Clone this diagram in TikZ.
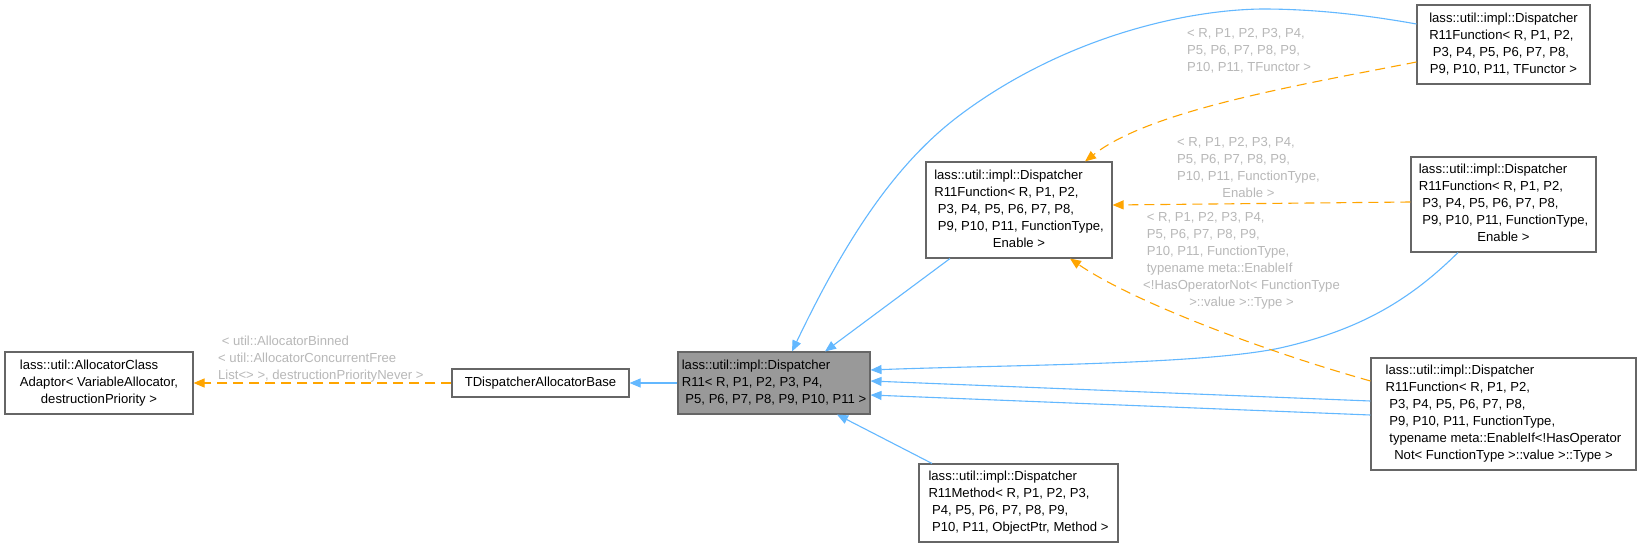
\documentclass[tikz,border=0pt]{standalone}
\usepackage{fontspec}
\setmainfont{Liberation Sans}
\usetikzlibrary{arrows.meta,calc}
\definecolor{edgeblue}{HTML}{63B8FF}
\definecolor{edgeorange}{HTML}{FFA500}
\definecolor{lblgray}{HTML}{B8B8B8}
\definecolor{boxborder}{HTML}{666666}
\definecolor{boxgray}{HTML}{999999}
\newcommand{\ctrline}[1]{\multicolumn{1}{@{}c@{}}{#1}}
\newcommand{\tb}[1]{\begin{tabular}{@{}l@{}}#1\end{tabular}}
\newcommand{\tbt}[1]{\begin{tabular}[t]{@{}l@{}}#1\end{tabular}}
\begin{document}
\begin{tikzpicture}[x=1pt,y=-1pt,
  box/.style={draw=boxborder, line width=1.1pt, fill=white, inner sep=0pt, font=\fontsize{13.1}{17}\selectfont},
  lbl/.style={text=lblgray, inner sep=0pt, anchor=base west, font=\fontsize{13.1}{17}\selectfont},
  inh/.style={draw=edgeblue, line width=1.1pt, -{Triangle[length=11pt,width=9pt]}},
  usage/.style={draw=edgeorange, line width=1.1pt, dash pattern=on 10pt off 6pt, -{Triangle[length=11pt,width=9pt]}}]
\useasboundingbox[fill=white] (0,0) rectangle (1641,548);

\node[box, minimum width=188pt, minimum height=62pt] (A) at (99,383)
  {\tb{lass::util::AllocatorClass\\Adaptor< VariableAllocator,\\\ctrline{destructionPriority >}}};
\node[box, minimum width=177pt, minimum height=28pt] (B) at (540.5,383)
  {TDispatcherAllocatorBase};
\node[box, fill=boxgray, minimum width=192pt, minimum height=62pt] (C) at (774,383)
  {\tb{lass::util::impl::Dispatcher\\R11< R, P1, P2, P3, P4,\\\ P5, P6, P7, P8, P9, P10, P11 >}};
\node[box, minimum width=186pt, minimum height=96pt] (D) at (1019,210)
  {\tb{lass::util::impl::Dispatcher\\R11Function< R, P1, P2,\\\ P3, P4, P5, P6, P7, P8,\\\ P9, P10, P11, FunctionType,\\\ctrline{Enable >}}};
\node[box, minimum width=173pt, minimum height=79pt] (E) at (1503.5,44.5)
  {\tb{lass::util::impl::Dispatcher\\R11Function< R, P1, P2,\\\ P3, P4, P5, P6, P7, P8,\\\ctrline{P9, P10, P11, TFunctor >}}};
\node[box, minimum width=185pt, minimum height=95pt] (F) at (1503.5,204.5)
  {\tb{lass::util::impl::Dispatcher\\R11Function< R, P1, P2,\\\ P3, P4, P5, P6, P7, P8,\\\ P9, P10, P11, FunctionType,\\\ctrline{Enable >}}};
\node[box, minimum width=265pt, minimum height=112pt] (G) at (1503.5,414)
  {\tb{lass::util::impl::Dispatcher\\R11Function< R, P1, P2,\\\ P3, P4, P5, P6, P7, P8,\\\ P9, P10, P11, FunctionType,\\\ typename meta::EnableIf<!HasOperator\\\ctrline{Not< FunctionType >::value >::Type >}}};
\node[box, minimum width=199pt, minimum height=78pt] (H) at (1018.5,503)
  {\tb{lass::util::impl::Dispatcher\\R11Method< R, P1, P2, P3,\\\ P4, P5, P6, P7, P8, P9,\\\ P10, P11, ObjectPtr, Method >}};

\node[lbl] (lab1) at (218,345.8)
  {\tbt{\ < util::AllocatorBinned\\< util::AllocatorConcurrentFree\\List<> >, destructionPriorityNever >}};
\node[lbl] (lab2) at (1187,37.8)
  {\tbt{< R, P1, P2, P3, P4,\\P5, P6, P7, P8, P9,\\P10, P11, TFunctor >}};
\node[lbl] (lab3) at (1177,146.8)
  {\tbt{< R, P1, P2, P3, P4,\\P5, P6, P7, P8, P9,\\P10, P11, FunctionType,\\\ctrline{Enable >}}};
\node[lbl] (lab4) at (1143,221.8)
  {\tbt{\ < R, P1, P2, P3, P4,\\\ P5, P6, P7, P8, P9,\\\ P10, P11, FunctionType,\\\ typename meta::EnableIf\\<!HasOperatorNot< FunctionType\\\ctrline{>::value >::Type >}}};

\draw[usage] (B.west) -- (A.east);
\draw[inh] (C.west) -- (B.east);
\draw[inh] ($(D.south)+(-69,0)$) -- ($(C.north)+(51,0)$);
\draw[inh] ($(E.west)+(0,-20.5)$) .. controls (1355,13) and (1305,9) .. (1262,9)
  .. controls (1180,10) and (1060,40) .. (960,115)
  .. controls (900,160) and (850,230) .. ($(C.north)+(18,0)$);
\draw[inh] ($(F.south)+(-45.5,0)$) .. controls (1410,300) and (1360,330) .. (1280,348)
  .. controls (1200,365) and (1000,365) .. ($(C.east)+(0,-13)$);
\draw[inh] ($(G.west)+(0,-13)$) -- ($(C.east)+(0,-2)$);
\draw[inh] ($(G.west)+(0,1)$) -- ($(C.east)+(0,12)$);
\draw[inh] ($(H.north)+(-86.5,0)$) -- ($(C.south)+(63,0)$);
\draw[usage] ($(E.west)+(0,17.5)$) .. controls (1300,85) and (1150,110) .. ($(D.north)+(66,0)$);
\draw[usage] ($(F.west)+(0,-2.5)$) -- ($(D.east)+(0,-5)$);
\draw[usage] ($(G.west)+(0,-33)$) .. controls (1260,350) and (1130,300) .. ($(D.south)+(51,0)$);
\end{tikzpicture}
\end{document}
